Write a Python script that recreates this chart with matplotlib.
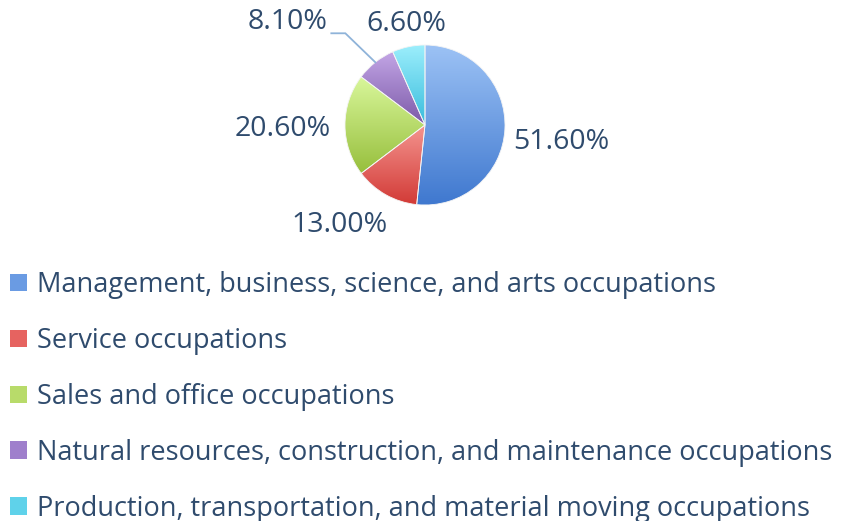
import numpy as np
import matplotlib
matplotlib.use("Agg")
import matplotlib.pyplot as plt
from matplotlib.patches import Patch

# data
categories = [
    "Management, business, science, and arts occupations",
    "Service occupations",
    "Sales and office occupations",
    "Natural resources, construction, and maintenance occupations",
    "Production, transportation, and material moving occupations",
]
shares = [51.6, 13.0, 20.6, 8.1, 6.6]
pct_labels = ["51.60%", "13.00%", "20.60%", "8.10%", "6.60%"]

# gradient colours (top, bottom) per slice
top_cols = ["#9cc2f5", "#f4948f", "#d9f79c", "#c4a6e6", "#9ceefc"]
bot_cols = ["#3f78cf", "#d23a36", "#97bf3c", "#7b5aa8", "#38bcdc"]
mid_cols = ["#6a9be3", "#e66360", "#b8db6a", "#9f7fcc", "#5fd2ea"]

text_col = "#2f4b6d"
plt.rcParams['font.family'] = ['Open Sans', 'DejaVu Sans']
FS = 19.5
FS_LAB = 20.5

W, H = 856, 521
fig = plt.figure(figsize=(W / 100, H / 100), dpi=100)
ax = fig.add_axes([0, 0, 1, 1])

cx, cy, R = 425, H - 125, 80
wedges, _ = ax.pie(shares, startangle=90, counterclock=False, radius=R,
                   center=(cx, cy), frame=True,
                   wedgeprops=dict(linewidth=0.6, edgecolor='#f4f4f4'))
ax.set_xlim(0, W)
ax.set_ylim(0, H)
ax.set_aspect('equal')
ax.axis('off')

# gradient fill for each slice
grad = np.linspace(0, 1, 256).reshape(-1, 1)
for w, c0, c1 in zip(wedges, top_cols, bot_cols):
    w.set_facecolor('none')
    bb = w.get_path().get_extents(w.get_transform())
    bb_d = ax.transData.inverted().transform(bb)
    x0, y0 = bb_d[0]
    x1, y1 = bb_d[1]
    cmap = matplotlib.colors.LinearSegmentedColormap.from_list('g', [c1, c0])
    im = ax.imshow(grad, extent=(x0, x1, y0, y1), origin='lower', cmap=cmap,
                   aspect='auto', zorder=0.5, interpolation='bilinear')
    im.set_clip_path(w)
    w.set_zorder(1)

# label placement: (distance factor, angle nudge in degrees)
label_style = [(1.71, -3.0), (1.62, -12.0), (1.78, 0.5), (None, 0), (1.32, -1.5)]
for w, txt, (dist, nudge) in zip(wedges, pct_labels, label_style):
    ang = np.deg2rad((w.theta1 + w.theta2) / 2)
    if dist is None:
        # leader line: slice edge -> knee -> short horizontal run
        ex, ey = cx + R * np.cos(ang), cy + R * np.sin(ang)
        kx, ky = ex - 30, ey + 29
        lx = kx - 14
        ax.plot([ex, kx, lx], [ey, ky, ky], color='#8fb3d9', lw=1.3,
                solid_joinstyle='miter', zorder=2)
        ax.text(lx - 4, ky + 11, txt, ha='right', va='center',
                fontsize=FS_LAB, color=text_col)
        continue
    a = ang + np.deg2rad(nudge)
    ax.text(cx + dist * R * np.cos(a), cy + dist * R * np.sin(a) - 3, txt,
            ha='center', va='center', fontsize=FS_LAB, color=text_col)

handles = [Patch(facecolor=c, edgecolor='none') for c in mid_cols]
leg = fig.legend(handles, categories, loc='upper left', bbox_to_anchor=(0.012, 0.48),
                 frameon=False, fontsize=FS, handlelength=0.6, handleheight=0.6,
                 handletextpad=0.4, labelspacing=1.03, borderaxespad=0.0,
                 borderpad=0.0)
for t in leg.get_texts():
    t.set_color(text_col)

fig.savefig('out.png', dpi=100, facecolor='white')
